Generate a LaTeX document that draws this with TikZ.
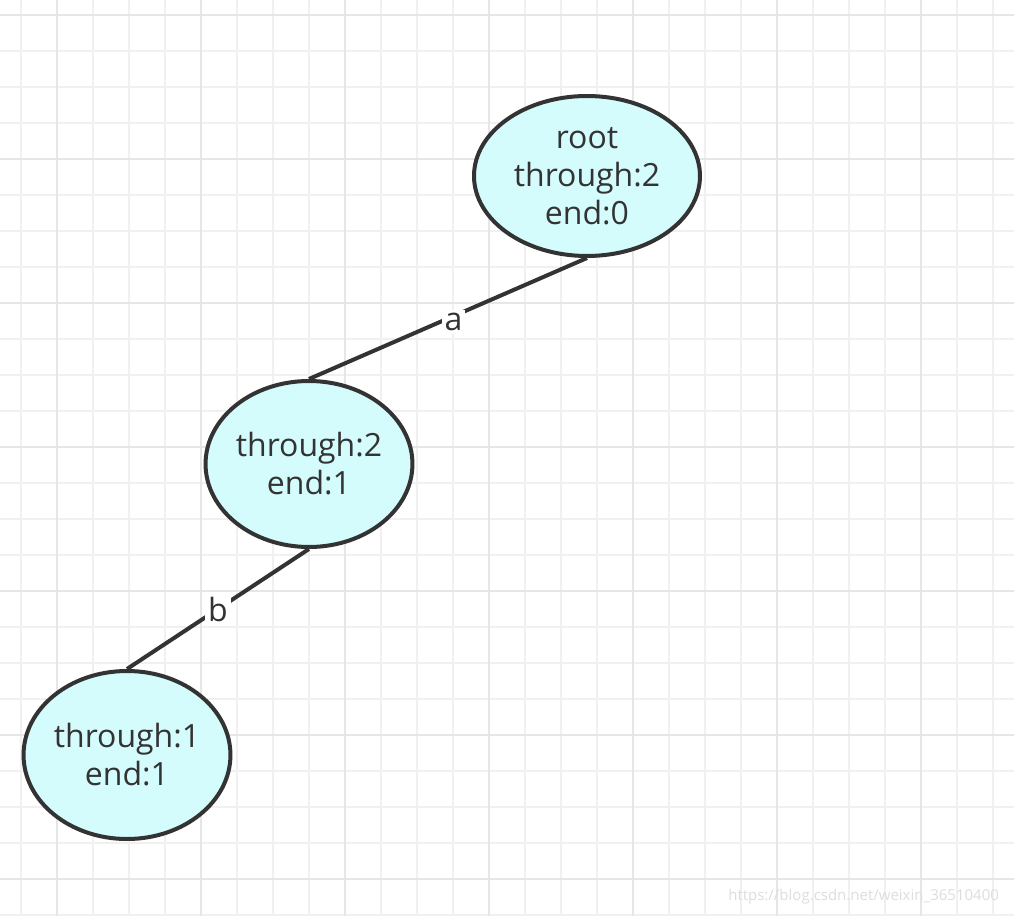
\documentclass[tikz,border=0pt]{standalone}
\usepackage{fontspec}
\setmainfont{Open Sans}
\usetikzlibrary{shapes.geometric}
\definecolor{nodefill}{HTML}{D4FCFD}
\definecolor{nodeline}{HTML}{333333}
\definecolor{gridminor}{HTML}{F0F0F0}
\definecolor{gridmajor}{HTML}{E6E6E6}

\begin{document}
\begin{tikzpicture}[x=0.5pt,y=-0.5pt,every node/.style={font=\fontsize{16pt}{19pt}\selectfont,text=nodeline},
  trienode/.style={ellipse,draw=nodeline,fill=nodefill,line width=2pt,align=center,inner sep=0pt},
  edgelabel/.style={fill=white,inner sep=1.5pt},
  link/.style={draw=nodeline,line width=2pt}]
\useasboundingbox (0,0) rectangle (1014,916);
\fill[white] (0,0) rectangle (1014,916);
% grid
\foreach \x in {21,57,...,1014} \draw[gridminor,line width=0.8pt] (\x,0) -- (\x,916);
\foreach \y in {15,51,...,916} \draw[gridminor,line width=0.8pt] (0,\y) -- (1014,\y);
\foreach \x in {57,201,...,1014} \draw[gridmajor,line width=1pt] (\x,0) -- (\x,916);
\foreach \y in {15,159,...,916} \draw[gridmajor,line width=1pt] (0,\y) -- (1014,\y);
% trie nodes
\node[trienode,minimum width=113pt,minimum height=80pt] (root) at (587,176) {root\\through:2\\end:0};
\node[trienode,minimum width=102pt,minimum height=83pt] (na) at (309,464) {through:2\\end:1};
\node[trienode,minimum width=102pt,minimum height=84pt] (nb) at (127,755) {through:1\\end:1};
\draw[link] (root.south) -- node[edgelabel,pos=0.48,yshift=-3pt] (la) {a} (na.north);
\draw[link] (na.south) -- node[edgelabel] (lb) {b} (nb.north);
\node[anchor=east,font=\fontsize{7.5pt}{8pt}\selectfont,text=black!13] (mark) at (1006,897) {https://blog.csdn.net/weixin\_36510400};
\end{tikzpicture}
\end{document}
